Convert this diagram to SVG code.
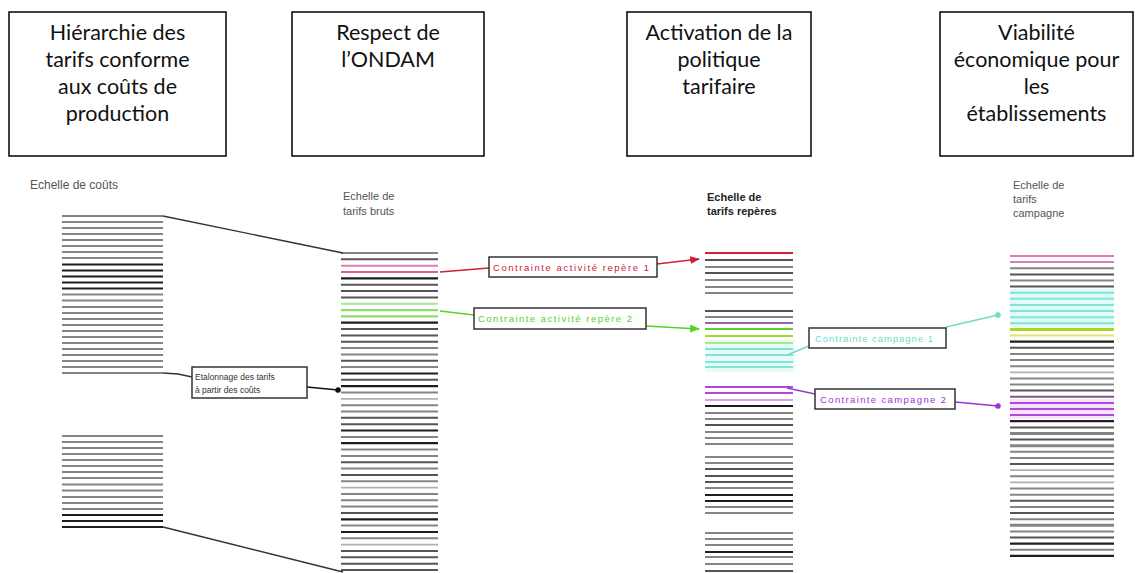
<svg xmlns="http://www.w3.org/2000/svg" width="1143" height="573" viewBox="0 0 1143 573">
<style>
.box{fill:#fff;stroke:#000;stroke-width:1.5}
.t{font-family:Lato,"Liberation Sans",Arial,sans-serif;font-size:21.5px;text-anchor:middle;fill:#111}
.h{font-family:"Liberation Sans",Arial,sans-serif;font-size:11px;fill:#555}
.hb{font-family:"Liberation Sans",Arial,sans-serif;font-size:11px;fill:#222;font-weight:bold}
.lb{font-family:"Liberation Sans",Arial,sans-serif;font-size:9.5px}
.lbox{fill:#fff;stroke:#333;stroke-width:1.5}
.k{stroke:#1e1e1e;stroke-width:2.2;fill:none}
.d{stroke:#555;stroke-width:2;fill:none}
.g{stroke:#858585;stroke-width:2;fill:none}
.l{stroke:#b0b0b0;stroke-width:1.8;fill:none}
.pk{stroke:#e27ab8;stroke-width:2;fill:none}
.rd{stroke:#d0203c;stroke-width:2.2;fill:none}
.gr{stroke:#55d22c;stroke-width:2.2;fill:none}
.lg{stroke:#a8e890;stroke-width:2;fill:none}
.yg{stroke:#a6dc1e;stroke-width:3;fill:none}
.ye{stroke:#e4e470;stroke-width:2;fill:none}
.cy{stroke:#7de6d6;stroke-width:2;fill:none}
.pu{stroke:#b048e0;stroke-width:2;fill:none}
.lp{stroke:#d9a0ee;stroke-width:2;fill:none}
.c{fill:none;stroke-width:1.4}
</style>
<defs>
<marker id="ar" viewBox="0 0 10 10" refX="9" refY="5" markerWidth="7" markerHeight="7" orient="auto"><path d="M0 1L10 5L0 9z" fill="#d0203c"/></marker>
<marker id="ag" viewBox="0 0 10 10" refX="9" refY="5" markerWidth="7" markerHeight="7" orient="auto"><path d="M0 1L10 5L0 9z" fill="#55d22c"/></marker>
<marker id="ac" viewBox="0 0 10 10" refX="5" refY="5" markerWidth="5" markerHeight="5" orient="auto"><circle cx="5" cy="5" r="4" fill="#6fdcca"/></marker>
<marker id="ap" viewBox="0 0 10 10" refX="5" refY="5" markerWidth="5" markerHeight="5" orient="auto"><circle cx="5" cy="5" r="4" fill="#9a35d6"/></marker>
<marker id="ak" viewBox="0 0 10 10" refX="5" refY="5" markerWidth="5" markerHeight="5" orient="auto"><circle cx="5" cy="5" r="4" fill="#111"/></marker>
</defs>
<rect width="1143" height="573" fill="#fff"/>

<g id="box1"><rect class="box" x="9" y="12" width="217" height="144"/>
<text class="t" x="117.5" y="40">Hiérarchie des</text><text class="t" x="117.5" y="67">tarifs conforme</text><text class="t" x="117.5" y="94">aux coûts de</text><text class="t" x="117.5" y="121">production</text></g>
<g id="box2"><rect class="box" x="292" y="12" width="192" height="144"/>
<text class="t" x="388" y="40">Respect de</text><text class="t" x="388" y="67">l’ONDAM</text></g>
<g id="box3"><rect class="box" x="627" y="12" width="184" height="144"/>
<text class="t" x="719" y="40">Activation de la</text><text class="t" x="719" y="67">politique</text><text class="t" x="719" y="94">tarifaire</text></g>
<g id="box4"><rect class="box" x="940" y="12" width="193" height="144"/>
<text class="t" x="1036.5" y="40">Viabilité</text><text class="t" x="1036.5" y="67">économique pour</text><text class="t" x="1036.5" y="94">les</text><text class="t" x="1036.5" y="121">établissements</text></g>

<g id="col-couts">
<text class="h" x="30" y="189" style="font-size:12px">Echelle de coûts</text>
<path class="g" d="M62 216H163M62 222H163M62 228H163M62 234H163M62 240H163M62 246H163M62 252H163M62 258H163M62 294.5H163M62 300.5H163M62 307H163M62 313H163M62 319H163M62 325H163M62 331H163M62 337H163M62 343H163M62 349H163M62 355H163M62 361H163M62 367H163M62 373H163"/>
<path class="k" d="M62 264.5H163M62 270.5H163M62 276.5H163M62 282.5H163M62 288.5H163"/>
<path class="g" d="M62 436H163M62 442H163M62 448H163M62 454H163M62 460H163M62 466H163M62 472H163M62 478H163M62 484.5H163M62 490.5H163M62 497H163M62 503H163M62 509H163"/>
<path class="k" d="M62 515H163M62 521H163M62 527H163"/>
</g>

<g id="col-bruts">
<text class="h" x="343" y="200">Echelle de</text>
<text class="h" x="343" y="215">tarifs bruts</text>
<path class="g" d="M341 253H438M341 348.1H438M341 354.4H438M341 367.1H438M341 392.5H438M341 405.2H438M341 411.5H438M341 436.9H438M341 449.5H438M341 455.9H438M341 468.6H438M341 481.2H438M341 493.9H438M341 500.3H438M341 506.6H438M341 525.6H438M341 538.3H438"/>
<path class="d" d="M341 259.3H438M341 284.7H438M341 291H438M341 297.4H438M341 329.1H438M341 335.4H438M341 341.8H438M341 360.8H438M341 379.8H438M341 417.8H438M341 424.2H438M341 462.2H438M341 474.9H438M341 512.9H438M341 551H438M341 557.3H438M341 563.7H438M341 570H438"/>
<path class="k" d="M341 278.4H438M341 322.7H438M341 373.5H438M341 386.1H438M341 430.5H438M341 443.2H438M341 519.3H438M341 532H438"/>
<path class="l" d="M341 398.8H438M341 487.6H438M341 544.6H438"/>
<path class="pk" d="M341 265.7H438"/>
<path class="rd" d="M341 272H438" style="stroke:#e0608a"/>
<path class="lg" d="M341 303.7H438"/>
<path class="gr" d="M341 310.1H438M341 316.4H438" style="stroke:#8fdc6a"/>
</g>

<g id="col-reperes">
<text class="hb" x="707" y="201">Echelle de</text>
<text class="hb" x="707" y="215">tarifs repères</text>
<rect x="705" y="340" width="90" height="32" fill="#e8fbf8"/>
<path class="rd" d="M705 253H793"/>
<path class="d" d="M705 260H793M705 273H793M705 311H793M705 425H793M705 469H793M705 476H793M705 482H793M705 571H793"/>
<path class="g" d="M705 267H793M705 280H793M705 287H793M705 293H793M705 317H793M705 413H793M705 419H793M705 432H793M705 438H793M705 444H793M705 457H793M705 463H793M705 488H793M705 507H793M705 513H793M705 533H793M705 539H793M705 545H793M705 557H793M705 564H793"/>
<path class="k" d="M705 406H793M705 495H793M705 501H793M705 552H793"/>
<path class="pu" d="M705 323H793" style="stroke:#8a6aa8"/>
<path class="gr" d="M705 329H793"/>
<path class="yg" d="M705 336H793" style="stroke-width:2"/>
<path class="lg" d="M705 343H793"/>
<path class="cy" d="M705 349H793M705 355H793M705 362H793M705 367H793"/>
<path class="pu" d="M705 387H793M705 393H793"/>
<path class="lp" d="M705 400H793"/>
</g>

<g id="col-campagne">
<text class="h" x="1013" y="189">Echelle de</text>
<text class="h" x="1013" y="203">tarifs</text>
<text class="h" x="1013" y="217">campagne</text>
<rect x="1010" y="289" width="104" height="38" fill="#e2fbf7"/>
<rect x="1010" y="399" width="104" height="20" fill="#f6e4fb"/>
<path class="pk" d="M1010 256H1114M1010 262.1H1114"/>
<path class="g" d="M1010 268.2H1114M1010 280.5H1114M1010 353.9H1114M1010 360H1114M1010 366.2H1114M1010 378.4H1114M1010 384.5H1114M1010 451.8H1114M1010 458H1114M1010 476.3H1114M1010 488.6H1114M1010 494.7H1114M1010 506.9H1114M1010 519.2H1114M1010 531.4H1114M1010 549.8H1114"/>
<path class="d" d="M1010 274.4H1114M1010 286.6H1114M1010 347.8H1114M1010 390.6H1114M1010 427.4H1114M1010 439.6H1114M1010 464.1H1114M1010 500.8H1114M1010 513H1114M1010 537.5H1114"/>
<path class="g" style="stroke-width:3" d="M1010 433.5H1114M1010 445.7H1114M1010 525.3H1114"/>
<path class="l" d="M1010 372.3H1114M1010 470.2H1114M1010 482.4H1114"/>
<path class="k" d="M1010 341.7H1114M1010 421.2H1114M1010 543.6H1114M1010 555.9H1114"/>
<path class="cy" d="M1010 292.7H1114M1010 298.8H1114M1010 305H1114M1010 311.1H1114M1010 317.2H1114M1010 323.3H1114"/>
<path class="yg" d="M1010 329.4H1114"/>
<path class="ye" d="M1010 335.6H1114"/>
<path class="d" d="M1010 396.8H1114" style="stroke:#7a5a8a"/>
<path class="pu" d="M1010 402.9H1114M1010 409H1114M1010 415.1H1114"/>
</g>

<g id="connectors">
<path class="c" stroke="#333" d="M163 216L343 253"/>
<path class="c" stroke="#333" d="M163 527L343 572"/>
<path class="c" stroke="#333" d="M163 373L178 374L192 377"/>
<path class="c" stroke="#111" stroke-width="2" d="M307 387L338 390" marker-end="url(#ak)"/>
<path class="c" stroke="#d0203c" d="M440 272L489 268"/>
<path class="c" stroke="#d0203c" stroke-width="2" d="M657 264L699 259" marker-end="url(#ar)"/>
<path class="c" stroke="#55d22c" d="M440 311L474 315"/>
<path class="c" stroke="#55d22c" stroke-width="2" d="M646 326L699 329" marker-end="url(#ag)"/>
<path class="c" stroke="#6fdcca" d="M787 355L809 346"/>
<path class="c" stroke="#6fdcca" d="M946 327L998 315" marker-end="url(#ac)"/>
<path class="c" stroke="#9a35d6" d="M787 388L815 394"/>
<path class="c" stroke="#9a35d6" stroke-width="2" d="M955 402L998 406" marker-end="url(#ap)"/>
</g>

<g id="label-etalonnage"><rect class="lbox" x="192" y="367" width="115" height="31"/>
<text class="lb" x="195" y="380" fill="#333" style="font-size:8.5px">Etalonnage des tarifs</text>
<text class="lb" x="195" y="393" fill="#333" style="font-size:8.5px">à partir des coûts</text></g>
<g id="label-rep1"><rect class="lbox" x="489" y="257" width="168" height="20"/>
<text class="lb" x="493" y="271" fill="#d0203c" textLength="156">Contrainte activité repère 1</text></g>
<g id="label-rep2"><rect class="lbox" x="474" y="308" width="172" height="21"/>
<text class="lb" x="478" y="322" fill="#55d22c" textLength="154">Contrainte activité repère 2</text></g>
<g id="label-camp1"><rect class="lbox" x="809" y="328" width="137" height="20"/>
<text class="lb" x="815" y="342" fill="#6fdcca" textLength="118">Contrainte campagne 1</text></g>
<g id="label-camp2"><rect class="lbox" x="815" y="389" width="140" height="20"/>
<text class="lb" x="820" y="403" fill="#9a35d6" textLength="126">Contrainte campagne 2</text></g>
</svg>
